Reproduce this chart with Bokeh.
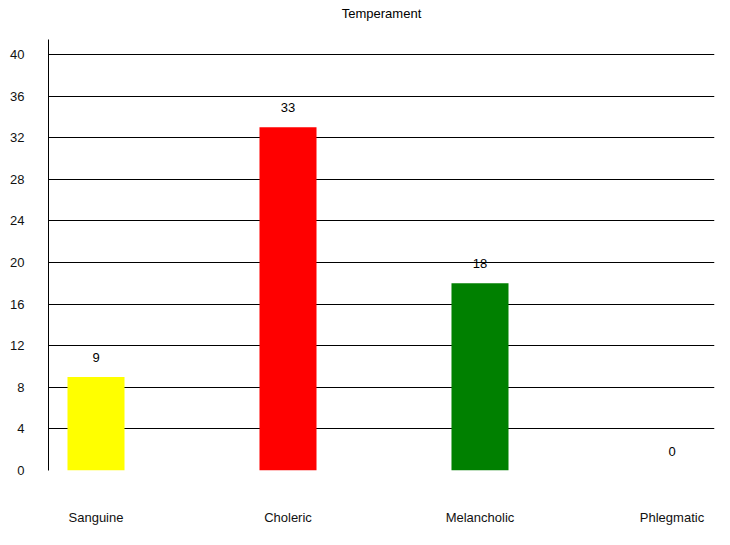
from bokeh.plotting import figure
from bokeh.models import ColumnDataSource, FixedTicker, Range1d, Title
from bokeh.embed import file_html
from bokeh.resources import INLINE
from bokeh.core.properties import value

categories = ["Sanguine", "Choleric", "Melancholic", "Phlegmatic"]
counts = [9, 33, 18, 0]
colors = ["#ffff00", "#ff0000", "#008000", "#0000ff"]
y_ticks = [0, 4, 8, 12, 16, 20, 24, 28, 32, 36, 40]

xs = [i + 0.5 for i in range(len(categories))]
src = ColumnDataSource(dict(x=xs, top=counts, color=colors,
                            label=[str(c) for c in counts], cat=categories))

FONT = "Liberation Sans"
FS = "13px"

p = figure(width=722, height=537, output_backend="svg", toolbar_location=None,
           x_range=Range1d(0.2526, 3.7214), y_range=Range1d(0, 41.44),
           min_border_left=48, min_border_right=8, min_border_top=39,
           min_border_bottom=67, title=None)
p.outline_line_color = None
p.background_fill_color = "white"
p.border_fill_color = "white"

# spacer between the frame and the title
spacer = Title(text=" ", text_font_size="1px", standoff=13)
p.add_layout(spacer, "above")
title = Title(text="Temperament", align="center", vertical_align="bottom",
              text_font=FONT, text_font_size=FS, text_font_style="normal",
              text_color="#000000", standoff=6)
p.add_layout(title, "above")

p.vbar(x="x", top="top", width=0.297, bottom=0, fill_color="color",
       line_color=None, source=src)
p.text(x="x", y="top", text="label", source=src, text_align="center",
       text_baseline="middle", y_offset=-19.5, text_font=value(FONT),
       text_font_size=FS, text_color="#000000")

# y axis
ya = p.yaxis[0]
ya.ticker = FixedTicker(ticks=y_ticks)
ya.axis_line_color = "#000000"
ya.major_tick_line_color = None
ya.minor_tick_line_color = None
ya.major_tick_out = 0
ya.major_tick_in = 0
ya.major_label_standoff = 24
ya.major_label_text_baseline = "bottom"
ya.major_label_text_font = FONT
ya.major_label_text_font_size = FS
ya.major_label_text_color = "#111111"

# x axis
xa = p.xaxis[0]
xa.ticker = FixedTicker(ticks=xs)
xa.major_label_overrides = {x: c for x, c in zip(xs, categories)}
xa.axis_line_color = None
xa.major_tick_line_color = None
xa.minor_tick_line_color = None
xa.major_tick_out = 0
xa.major_tick_in = 0
xa.major_label_standoff = 39
xa.major_label_text_font = FONT
xa.major_label_text_font_size = FS
xa.major_label_text_color = "#111111"

p.xgrid.grid_line_color = None
p.ygrid.ticker = FixedTicker(ticks=y_ticks)
p.ygrid.grid_line_color = "#000000"
p.ygrid.grid_line_alpha = 1.0

open("out.html", "w").write(file_html(p, INLINE))
